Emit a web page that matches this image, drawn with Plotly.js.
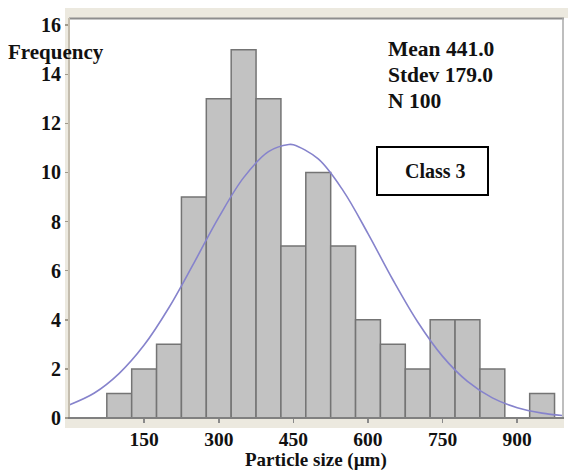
<!DOCTYPE html>
<html>
<head>
<meta charset="utf-8">
<script src="https://cdn.plot.ly/plotly-3.0.1.min.js"></script>
<style>html,body{margin:0;padding:0;background:#fff;}#chart{width:568px;height:473px;}</style>
</head>
<body>
<div id="chart"></div>
<script>
// Histogram bins (centre, µm) and frequencies
const binCenters = [100, 150, 200, 250, 300, 350, 400, 450, 500, 550, 600, 650, 700, 750, 800, 850, 900, 950];
const frequencies = [1, 2, 3, 9, 13, 15, 13, 7, 10, 7, 4, 3, 2, 4, 4, 2, 0, 1];
// Fitted normal curve
const curveX = [0, 50, 100, 150, 200, 250, 300, 350, 400, 441, 450, 500, 550, 600, 650, 700, 750, 800, 850, 900, 950, 990];
const curveY = [0.54, 1.02, 1.82, 2.97, 4.5, 6.31, 8.17, 9.79, 10.85, 11.14, 11.13, 10.55, 9.26, 7.51, 5.63, 3.91, 2.51, 1.49, 0.82, 0.42, 0.2, 0.1];
const xTicks = [150, 300, 450, 600, 750, 900];
const statsLines = ["Mean 441.0", "Stdev 179.0", "N 100"];
const classLabel = "Class 3";
const xTitle = "Particle size (\u00b5m)";
const yTitle = "Frequency";

const W = 568, H = 473;
const L = 70, R = 5, T = 19, B = 55;
const pw = W - L - R, ph = H - T - B;
const px = v => (v - L) / pw;        // pixel x -> paper x
const py = v => (H - B - v) / ph;    // pixel y -> paper y

const serif = {family: "Liberation Serif, Times New Roman, serif", size: 20, color: "#111", weight: "bold"};
const sz = s => Object.assign({}, serif, {size: s});

const traces = [
  {
    type: "bar", x: binCenters, y: frequencies, width: 50,
    marker: {color: "#c2c2c2", line: {color: "#747474", width: 1.5}},
    hoverinfo: "skip"
  },
  {
    type: "scatter", mode: "lines", x: curveX, y: curveY,
    line: {color: "#8683cc", width: 1.6, shape: "spline"},
    hoverinfo: "skip"
  }
];

const beige = "#ece9df";
const shapes = [
  {type: "rect", xref: "paper", yref: "paper", x0: px(65), x1: px(568), y0: py(18), y1: py(8), fillcolor: beige, line: {width: 0}, layer: "below"},
  {type: "rect", xref: "paper", yref: "paper", x0: px(65), x1: px(70), y0: py(428), y1: py(8), fillcolor: beige, line: {width: 0}, layer: "below"},
  {type: "rect", xref: "paper", yref: "paper", x0: px(65), x1: px(564), y0: py(428), y1: py(418), fillcolor: beige, line: {width: 0}, layer: "below"},
  {type: "line", xref: "paper", yref: "paper", x0: px(69), x1: px(564), y0: py(18.5), y1: py(18.5), line: {color: "#8e8e8e", width: 2}},
  {type: "line", xref: "paper", yref: "paper", x0: px(563), x1: px(563), y0: py(418), y1: py(18), line: {color: "#a8a8a8", width: 1.5}},
  {type: "line", xref: "paper", yref: "paper", x0: px(69), x1: px(69), y0: py(419), y1: py(18), line: {color: "#c4bdae", width: 2}},
  {type: "line", xref: "paper", yref: "paper", x0: px(68), x1: px(564), y0: py(418), y1: py(418), line: {color: "#808080", width: 2}},
  {type: "rect", xref: "paper", yref: "paper", x0: px(377), x1: px(488), y0: py(195), y1: py(147), line: {color: "#000", width: 2}, fillcolor: "rgba(0,0,0,0)"}
];

const annotations = [
  {xref: "paper", yref: "paper", x: px(6), y: py(52), xanchor: "left", yanchor: "middle", text: yTitle, showarrow: false, font: sz(21)},
  {xref: "paper", yref: "paper", x: px(435), y: py(171), xanchor: "center", yanchor: "middle", text: classLabel, showarrow: false, font: sz(20)},
  {xref: "paper", yref: "paper", x: px(316), y: py(472), xanchor: "center", yanchor: "bottom", text: xTitle, showarrow: false, font: sz(19), borderpad: 0}
];
const statY = [49, 75, 101];
statsLines.forEach((s, i) => annotations.push({
  xref: "paper", yref: "paper", x: px(386), y: py(statY[i]), xanchor: "left", yanchor: "middle",
  text: s, showarrow: false, font: sz(21.5)
}));

const layout = {
  width: W, height: H,
  margin: {l: L, r: R, t: T, b: B, pad: 0},
  paper_bgcolor: "#fff", plot_bgcolor: "#fff",
  showlegend: false, bargap: 0,
  font: serif,
  xaxis: {
    range: [1, 992], tickvals: xTicks, ticktext: xTicks.map(String),
    showgrid: false, zeroline: false, showline: false,
    ticks: "outside", ticklen: 4, tickwidth: 1.5, tickcolor: "#8a8a8a",
    tickfont: sz(19.5)
  },
  yaxis: {
    range: [0, 16.25], dtick: 2, tick0: 0,
    showgrid: false, zeroline: false, showline: false,
    ticks: "outside", ticklen: 4, tickwidth: 1.5, tickcolor: "#a09a8c",
    tickfont: serif
  },
  shapes: shapes,
  annotations: annotations
};

Plotly.newPlot("chart", traces, layout, {staticPlot: true, displayModeBar: false});
</script>
</body>
</html>
